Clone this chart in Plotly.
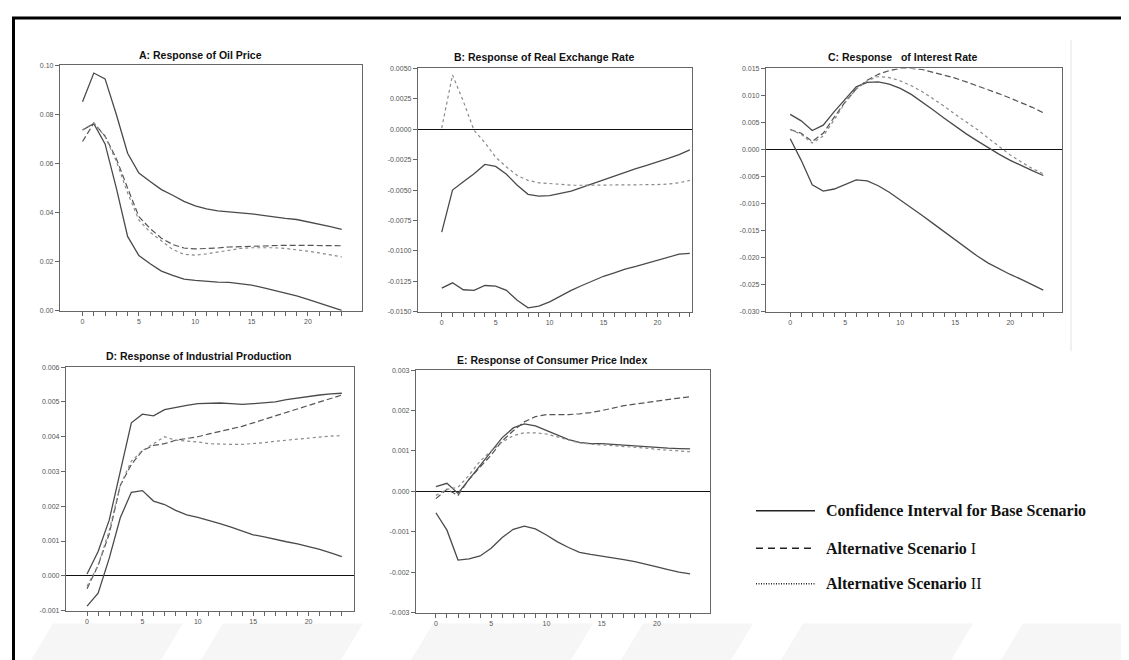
import plotly.graph_objects as go

W, H = 1129, 660

periods = list(range(24))
x_ticktext = [str(p) if p % 5 == 0 else "" for p in periods]

# ---------------- Panel A: Oil price ----------------
a_upper = [0.0852, 0.0969, 0.0945, 0.0800, 0.0642, 0.0561, 0.0527, 0.0494, 0.0471, 0.0446,
           0.0428, 0.0415, 0.0407, 0.0404, 0.0400, 0.0395, 0.0389, 0.0382, 0.0377, 0.0372,
           0.0363, 0.0353, 0.0343, 0.0332]
a_lower = [0.0737, 0.0763, 0.0680, 0.0500, 0.0303, 0.0225, 0.0192, 0.0162, 0.0144, 0.0129,
           0.0124, 0.0119, 0.0117, 0.0116, 0.0112, 0.0105, 0.0094, 0.0083, 0.0073, 0.0061,
           0.0047, 0.0032, 0.0017, 0.0002]
a_alt1 = [0.0690, 0.0765, 0.0712, 0.0620, 0.0500, 0.0384, 0.0335, 0.0296, 0.0270, 0.0256,
          0.0252, 0.0253, 0.0256, 0.0260, 0.0262, 0.0264, 0.0265, 0.0266, 0.0267, 0.0267,
          0.0266, 0.0265, 0.0265, 0.0265]
a_alt2 = [0.0737, 0.0765, 0.0710, 0.0610, 0.0480, 0.0370, 0.0320, 0.0285, 0.0250, 0.0230,
          0.0227, 0.0232, 0.0240, 0.0248, 0.0254, 0.0257, 0.0258, 0.0257, 0.0254, 0.0250,
          0.0243, 0.0236, 0.0228, 0.0220]

# ---------------- Panel B: Real exchange rate ----------------
b_upper = [-0.00846, -0.00500, -0.00432, -0.00365, -0.00289, -0.00305, -0.00370, -0.00460,
           -0.00535, -0.00549, -0.00546, -0.00527, -0.00508, -0.00478, -0.00446, -0.00414,
           -0.00384, -0.00351, -0.00324, -0.00297, -0.00270, -0.00240, -0.00208, -0.00170]
b_lower = [-0.01305, -0.01262, -0.01319, -0.01324, -0.01284, -0.01289, -0.01324, -0.01405,
           -0.01468, -0.01454, -0.01419, -0.01370, -0.01324, -0.01284, -0.01243, -0.01208,
           -0.01181, -0.01149, -0.01127, -0.01103, -0.01081, -0.01054, -0.01027, -0.01020]
b_alt2 = [0.00010, 0.00446, 0.00230, -0.00010, -0.00110, -0.00230, -0.00310, -0.00380,
          -0.00420, -0.00440, -0.00446, -0.00454, -0.00460, -0.00460, -0.00460, -0.00460,
          -0.00460, -0.00460, -0.00460, -0.00458, -0.00455, -0.00450, -0.00440, -0.00420]

# ---------------- Panel C: Interest rate ----------------
c_upper = [0.0065, 0.0053, 0.0035, 0.0045, 0.0070, 0.0094, 0.0116, 0.0124, 0.0125, 0.0121,
           0.0113, 0.0102, 0.0088, 0.0073, 0.0058, 0.0043, 0.0029, 0.0016, 0.0003, -0.0009,
           -0.0020, -0.0030, -0.0039, -0.0048]
c_lower = [0.0020, -0.0020, -0.0065, -0.0077, -0.0073, -0.0065, -0.0056, -0.0058, -0.0067,
           -0.0079, -0.0093, -0.0107, -0.0122, -0.0137, -0.0152, -0.0168, -0.0183, -0.0197,
           -0.0210, -0.0221, -0.0231, -0.0240, -0.0250, -0.0260]
c_alt1 = [0.0037, 0.0030, 0.0015, 0.0030, 0.0060, 0.0088, 0.0112, 0.0128, 0.0139, 0.0146,
          0.0150, 0.0150, 0.0148, 0.0143, 0.0138, 0.0132, 0.0125, 0.0118, 0.0111, 0.0103,
          0.0095, 0.0087, 0.0078, 0.0068]
c_alt2 = [0.0037, 0.0028, 0.0012, 0.0025, 0.0055, 0.0087, 0.0112, 0.0127, 0.0135, 0.0133,
          0.0127, 0.0118, 0.0107, 0.0094, 0.0080, 0.0065, 0.0051, 0.0037, 0.0021, 0.0005,
          -0.0010, -0.0023, -0.0035, -0.0045]

# ---------------- Panel D: Industrial production ----------------
d_upper = [0.00005, 0.00070, 0.00160, 0.00300, 0.00440, 0.00465, 0.00460, 0.00478, 0.00485,
           0.00490, 0.00495, 0.00497, 0.00497, 0.00495, 0.00493, 0.00495, 0.00497, 0.00500,
           0.00507, 0.00512, 0.00516, 0.00520, 0.00523, 0.00525]
d_lower = [-0.00087, -0.00050, 0.00050, 0.00167, 0.00240, 0.00245, 0.00215, 0.00205, 0.00188,
           0.00175, 0.00168, 0.00160, 0.00150, 0.00140, 0.00130, 0.00118, 0.00112, 0.00104,
           0.00098, 0.00092, 0.00085, 0.00076, 0.00066, 0.00055]
d_alt1 = [-0.00037, 0.00030, 0.00120, 0.00260, 0.00320, 0.00360, 0.00375, 0.00380, 0.00390,
          0.00395, 0.00400, 0.00408, 0.00415, 0.00422, 0.00430, 0.00440, 0.00450, 0.00460,
          0.00470, 0.00480, 0.00490, 0.00500, 0.00510, 0.00520]
d_alt2 = [-0.00030, 0.00030, 0.00130, 0.00260, 0.00330, 0.00360, 0.00380, 0.00400, 0.00390,
          0.00388, 0.00385, 0.00380, 0.00378, 0.00378, 0.00378, 0.00380, 0.00383, 0.00387,
          0.00390, 0.00395, 0.00398, 0.00400, 0.00402, 0.00403]

# ---------------- Panel E: Consumer price index ----------------
e_upper = [0.00012, 0.00020, -0.00005, 0.00030, 0.00063, 0.00098, 0.00133, 0.00157, 0.00167,
           0.00162, 0.00150, 0.00139, 0.00128, 0.00121, 0.00118, 0.00118, 0.00116, 0.00115,
           0.00112, 0.00110, 0.00109, 0.00107, 0.00106, 0.00105]
e_lower = [-0.00053, -0.00096, -0.00170, -0.00167, -0.00160, -0.00141, -0.00114, -0.00094,
           -0.00086, -0.00093, -0.00108, -0.00125, -0.00139, -0.00151, -0.00156, -0.00160,
           -0.00164, -0.00169, -0.00174, -0.00180, -0.00187, -0.00194, -0.00200, -0.00204]
e_alt1 = [-0.00018, 0.00005, -0.00010, 0.00030, 0.00060, 0.00090, 0.00125, 0.00150, 0.00172,
          0.00185, 0.00190, 0.00190, 0.00190, 0.00192, 0.00195, 0.00200, 0.00206, 0.00212,
          0.00216, 0.00220, 0.00224, 0.00228, 0.00231, 0.00234]
e_alt2 = [-0.00010, 0.00005, 0.00010, 0.00040, 0.00075, 0.00100, 0.00122, 0.00138, 0.00145,
          0.00145, 0.00142, 0.00135, 0.00127, 0.00120, 0.00117, 0.00115, 0.00114, 0.00112,
          0.00110, 0.00107, 0.00104, 0.00102, 0.00100, 0.00098]

# y tick values / labels
a_yticks = [0.00, 0.02, 0.04, 0.06, 0.08, 0.10]
a_ylabels = ["0.00", "0.02", "0.04", "0.06", "0.08", "0.10"]
b_yticks = [-0.015, -0.0125, -0.01, -0.0075, -0.005, -0.0025, 0.0, 0.0025, 0.005]
b_ylabels = ["-0.0150", "-0.0125", "-0.0100", "-0.0075", "-0.0050", "-0.0025", "0.0000", "0.0025", "0.0050"]
c_yticks = [-0.030, -0.025, -0.020, -0.015, -0.010, -0.005, 0.0, 0.005, 0.010, 0.015]
c_ylabels = ["-0.030", "-0.025", "-0.020", "-0.015", "-0.010", "-0.005", "0.000", "0.005", "0.010", "0.015"]
d_yticks = [-0.001, 0.0, 0.001, 0.002, 0.003, 0.004, 0.005, 0.006]
d_ylabels = ["-0.001", "0.000", "0.001", "0.002", "0.003", "0.004", "0.005", "0.006"]
e_yticks = [-0.003, -0.002, -0.001, 0.0, 0.001, 0.002, 0.003]
e_ylabels = ["-0.003", "-0.002", "-0.001", "0.000", "0.001", "0.002", "0.003"]

titles = ["A: Response of Oil Price", "B: Response of Real Exchange Rate",
          "C: Response   of Interest Rate", "D: Response of Industrial Production",
          "E: Response of Consumer Price Index"]
legend_labels = ["<b>Confidence Interval for Base Scenario</b>",
                 "<b>Alternative Scenario</b> I",
                 "<b>Alternative Scenario</b> II"]

# layout of panels (pixel boxes: left, right, top, bottom) and x ranges
panels = [
    dict(series=[a_upper, a_lower, a_alt1, a_alt2], yt=a_yticks, yl=a_ylabels, yr=[0.0, 0.10],
         xr=[-2.0, 24.8], box=(52, 354, 54, 302), ty=43),
    dict(series=[b_upper, b_lower, None, b_alt2], yt=b_yticks, yl=b_ylabels, yr=[-0.015, 0.005],
         xr=[-2.2, 23.2], box=(410, 684, 57, 303), ty=45),
    dict(series=[c_upper, c_lower, c_alt1, c_alt2], yt=c_yticks, yl=c_ylabels, yr=[-0.030, 0.015],
         xr=[-2.2, 24.7], box=(758, 1054, 57, 303), ty=45),
    dict(series=[d_upper, d_lower, d_alt1, d_alt2], yt=d_yticks, yl=d_ylabels, yr=[-0.001, 0.006],
         xr=[-1.9, 24.1], box=(58, 346, 359, 605), ty=348),
    dict(series=[e_upper, e_lower, e_alt1, e_alt2], yt=e_yticks, yl=e_ylabels, yr=[-0.003, 0.003],
         xr=[-1.8, 24.8], box=(408, 702, 362, 607), ty=352),
]

styles = [
    dict(color="#4a4a4a", width=1.3, dash="solid"),
    dict(color="#4a4a4a", width=1.3, dash="solid"),
    dict(color="#555555", width=1.2, dash="6px,3px"),
    dict(color="#8a8a8a", width=1.2, dash="dot"),
]

fig = go.Figure()
layout = dict(width=W, height=H, margin=dict(l=0, r=0, t=0, b=0),
              paper_bgcolor="white", plot_bgcolor="white", showlegend=False)
annotations = []
shapes = []

tickfont = dict(family="Liberation Sans, Arial", size=7, color="#555555")

for i, p in enumerate(panels):
    n = "" if i == 0 else str(i + 1)
    l, r, t, b = p["box"]
    for s, st in zip(p["series"], styles):
        if s is None:
            continue
        fig.add_trace(go.Scatter(x=periods, y=s, mode="lines", line=st,
                                 xaxis="x" + n, yaxis="y" + n, hoverinfo="skip"))
    layout["xaxis" + n] = dict(domain=[l / W, r / W], anchor="y" + n, range=p["xr"],
                               tickvals=periods, ticktext=x_ticktext, ticks="outside",
                               ticklen=4, tickwidth=1, tickcolor="#666666",
                               showline=True, linecolor="#666666", linewidth=1.3, mirror=True,
                               showgrid=False, zeroline=False, tickfont=tickfont)
    layout["yaxis" + n] = dict(domain=[1 - b / H, 1 - t / H], anchor="x" + n, range=p["yr"],
                               tickvals=p["yt"], ticktext=p["yl"], ticks="outside",
                               ticklen=4, tickwidth=1, tickcolor="#666666",
                               showline=True, linecolor="#666666", linewidth=1.3, mirror=True,
                               showgrid=False, zeroline=True, zerolinecolor="#111111",
                               zerolinewidth=1, tickfont=tickfont)
    annotations.append(dict(text=titles[i], xref="paper", yref="paper",
                            x=((l + r) / 2 - 11) / W, y=1 - p["ty"] / H,
                            xanchor="center", yanchor="middle", showarrow=False,
                            font=dict(family="Liberation Sans, Arial", size=10.5,
                                      color="#111111", weight="bold")))

# manual legend (bottom right)
leg_rows = [504, 542, 578]
leg_dash = ["solid", "7px,5px", "1px,1.5px"]
for yy, lab, dsh in zip(leg_rows, legend_labels, leg_dash):
    shapes.append(dict(type="line", xref="paper", yref="paper",
                       x0=748 / W, x1=807 / W, y0=1 - yy / H, y1=1 - yy / H,
                       line=dict(color="#222222", width=1.5, dash=dsh)))
    annotations.append(dict(text=lab, xref="paper", yref="paper",
                            x=816 / W, y=1 - yy / H, xanchor="left", yanchor="middle",
                            showarrow=False,
                            font=dict(family="Liberation Serif, Times New Roman", size=16,
                                      color="#111111")))

# page decorations: black frame at top/left, thin grey separator, faint watermark stripes
shapes.append(dict(type="line", xref="paper", yref="paper", x0=4 / W, x1=1, y0=1 - 6 / H, y1=1 - 6 / H,
                   line=dict(color="black", width=3)))
shapes.append(dict(type="line", xref="paper", yref="paper", x0=5.5 / W, x1=5.5 / W, y0=0, y1=1 - 5 / H,
                   line=dict(color="black", width=3)))
shapes.append(dict(type="line", xref="paper", yref="paper", x0=1063 / W, x1=1063 / W,
                   y0=1 - 343 / H, y1=1 - 28 / H, line=dict(color="#e2e2e2", width=1)))
stripes = [(20, 150), (190, 330), (400, 560), (610, 720), (770, 940), (990, 1129)]
for x0, x1 in stripes:
    path = "M {a},{yb} L {b},{yb} L {c},{yt} L {d},{yt} Z".format(
        a=x0 / W, b=x1 / W, c=(x1 + 25) / W, d=(x0 + 25) / W, yb=0.0, yt=1 - 618 / H)
    shapes.append(dict(type="path", xref="paper", yref="paper", path=path,
                       fillcolor="#f6f6f6", line=dict(width=0), layer="below"))

layout["annotations"] = annotations
layout["shapes"] = shapes
fig.update_layout(**layout)
fig.write_html("out.html")
